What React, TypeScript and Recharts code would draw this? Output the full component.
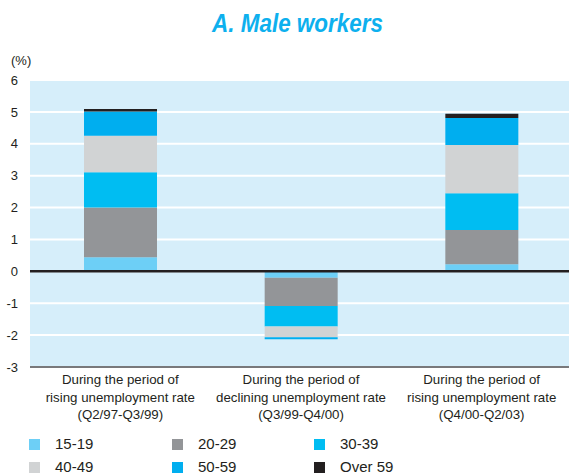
import React from "react";
import { BarChart, Bar, XAxis, YAxis, CartesianGrid, ReferenceLine } from "recharts";

const categories = [
  "During the period of\nrising unemployment rate\n(Q2/97-Q3/99)",
  "During the period of\ndeclining unemployment rate\n(Q3/99-Q4/00)",
  "During the period of\nrising unemployment rate\n(Q4/00-Q2/03)",
];
const age15to19 = [0.44, -0.2, 0.22];
const age20to29 = [1.56, -0.89, 1.08];
const age30to39 = [1.11, -0.64, 1.15];
const age40to49 = [1.14, -0.34, 1.51];
const age50to59 = [0.76, -0.06, 0.85];
const over59 = [0.08, 0, 0.13];
const yTicks = [-3, -2, -1, 0, 1, 2, 3, 4, 5, 6];

const seriesNames = ["15-19", "20-29", "30-39", "40-49", "50-59", "Over 59"];
const seriesValues = [age15to19, age20to29, age30to39, age40to49, age50to59, over59];
const seriesColors = ["#6dcff6", "#939598", "#00bdf2", "#d1d3d4", "#00aeef", "#231f20"];

const data = categories.map((c, i) => {
  const row: any = { name: c };
  seriesNames.forEach((s, k) => (row[s] = seriesValues[k][i]));
  return row;
});

const FONT = "'Liberation Sans', Arial, sans-serif";

const CatTick = (props: any) => {
  const { x, y, payload } = props;
  const lines = String(payload.value).split("\n");
  const offs = [17, 34.5, 52];
  return (
    <text x={x} y={y} textAnchor="middle" fontFamily={FONT} fontSize={13.3} fill="#231f20">
      {lines.map((l, i) => (
        <tspan key={i} x={x} y={y + offs[i]}>
          {l}
        </tspan>
      ))}
    </text>
  );
};

export default function App() {
  return (
    <div style={{ position: "fixed", left: 0, top: 0, width: 569, height: 476, overflow: "hidden", background: "#fff" }}>
      <svg width={569} height={80} style={{ position: "absolute", left: 0, top: 0 }}>
        <text x={212} y={32} fontFamily={FONT} fontSize={25} fontWeight="bold" fontStyle="italic" fill="#0db0ee" textLength={171} lengthAdjust="spacingAndGlyphs">
          A. Male workers
        </text>
        <text x={11} y={65} fontFamily={FONT} fontSize={13} fill="#231f20">
          (%)
        </text>
      </svg>
      <div style={{ position: "absolute", left: 0, top: 0 }}>
        <BarChart
          width={572}
          height={476}
          data={data}
          stackOffset="sign"
          margin={{ top: 80, right: 0, bottom: 0, left: 0 }}
          barSize={73}
        >
          <CartesianGrid vertical={false} stroke="#ffffff" strokeWidth={2} fill="#d6eefa" fillOpacity={1} />
          <XAxis
            dataKey="name"
            height={109}
            axisLine={{ stroke: "#4d4d4f", strokeWidth: 1.5 }}
            tickLine={false}
            tickSize={0}
            tickMargin={0}
            tick={<CatTick />}
            interval={0}
          />
          <YAxis
            width={30}
            domain={[-3, 6]}
            ticks={yTicks}
            interval={0}
            axisLine={false}
            tickLine={false}
            tickSize={0}
            tickMargin={12}
            tick={{ fontFamily: FONT, fontSize: 13, fill: "#231f20" }}
          />
          {seriesNames.map((s, k) => (
            <Bar key={s} dataKey={s} stackId="a" fill={seriesColors[k]} isAnimationActive={false} />
          ))}
          <ReferenceLine y={0} stroke="#231f20" strokeWidth={2.5} />
        </BarChart>
      </div>
      <div style={{ position: "absolute", left: 0, top: 0, width: 569, height: 476, pointerEvents: "none" }}>
        {seriesNames.map((s, k) => {
          const col = k % 3;
          const row = Math.floor(k / 3);
          const sx = [29, 172, 314][col];
          const cy = [444, 467][row];
          return (
            <React.Fragment key={s}>
              <div style={{ position: "absolute", left: sx, top: cy - 5.5, width: 11, height: 11, background: seriesColors[k] }} />
              <div
                style={{
                  position: "absolute",
                  left: sx + 26,
                  top: cy - 10,
                  height: 20,
                  lineHeight: "20px",
                  fontFamily: FONT,
                  fontSize: 15,
                  color: "#231f20",
                  whiteSpace: "nowrap",
                }}
              >
                {s}
              </div>
            </React.Fragment>
          );
        })}
      </div>
    </div>
  );
}
